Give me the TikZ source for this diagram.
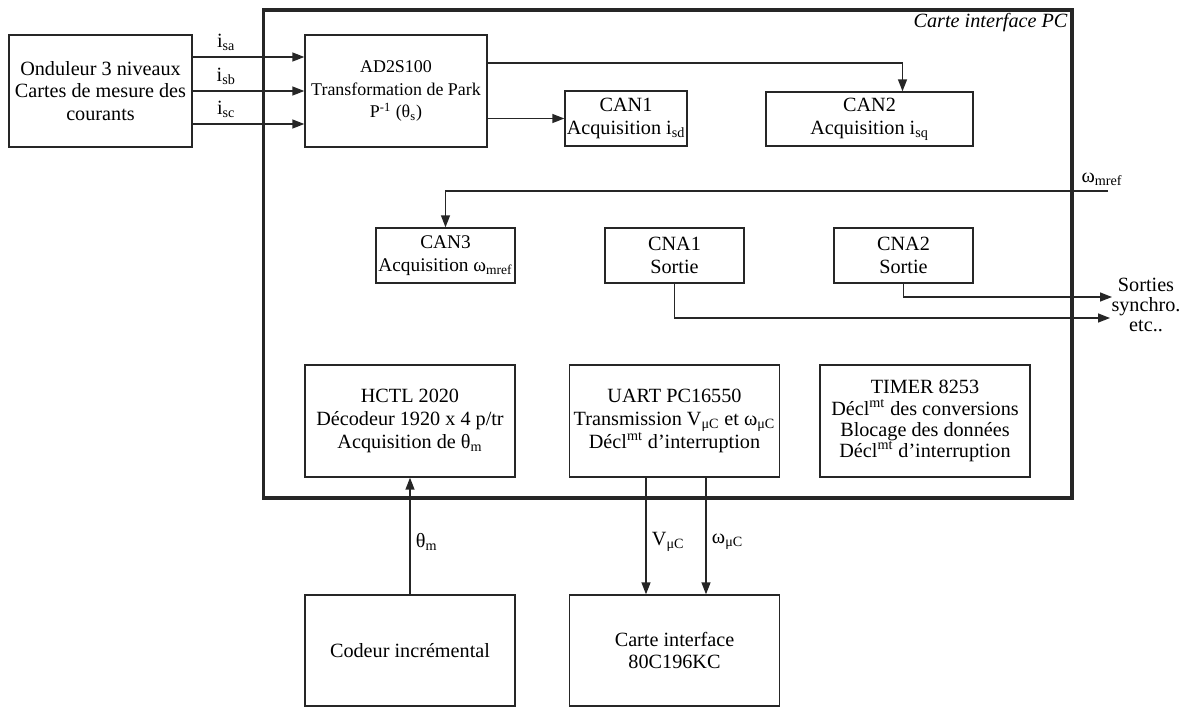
\documentclass[tikz,border=0pt]{standalone}
\usepackage{fontspec}
\setmainfont{Liberation Serif}
\usetikzlibrary{arrows.meta,positioning,calc}

\begin{document}
\begin{tikzpicture}[
    x=0.02cm, y=-0.02cm,
    every node/.style={font=\fontsize{11.5}{13}\selectfont},
    blockbox/.style={draw=black!85, line width=0.8pt, align=center, inner sep=0pt},
    bigbox/.style={blockbox, minimum width=4.2cm, minimum height=2.24cm},
    smallbox/.style={blockbox, minimum width=2.78cm, minimum height=1.1cm},
    sig/.style={draw=black!85, line width=0.8pt, -{Triangle[length=2.4mm, width=1.8mm]}},
    sublbl/.style={inner sep=3pt},
  ]
    \useasboundingbox (0,0) rectangle (1189,707);
    \node[draw=black!85, line width=1.8pt, minimum width=16.18cm, minimum height=9.76cm, inner sep=0pt] (pc) at (667.5,254) {};
    \node[anchor=north east, inner sep=1pt, font=\fontsize{11.5}{13}\selectfont\itshape] (pclbl) at ($(pc.north east)+(-4,3)$) {Carte interface PC};
    \node[blockbox, minimum width=3.66cm, minimum height=2.24cm] (ond) at (100.5,91) {Onduleur 3 niveaux\\Cartes de mesure des\\courants};
    \node[blockbox, minimum width=3.64cm, minimum height=2.24cm, font=\fontsize{10.2}{13}\selectfont] (park) at (396,91) {AD2S100\\Transformation de Park\\P\textsuperscript{-1} (θ\textsubscript{s})};
    \node[blockbox, minimum width=2.44cm, minimum height=1.1cm] (can1) at (626,118.5) {CAN1\\Acquisition i\textsubscript{sd}};
    \node[blockbox, minimum width=4.14cm, minimum height=1.08cm] (can2) at (869.5,119) {CAN2\\Acquisition i\textsubscript{sq}};
    \node[smallbox, font=\fontsize{11}{13}\selectfont] (can3) at (445.5,255.5) {CAN3\\Acquisition ω\textsubscript{mref}};
    \node[smallbox] (cna1) at (674.5,255.5) {CNA1\\Sortie};
    \node[smallbox] (cna2) at (903.5,255.5) {CNA2\\Sortie};
    \node[bigbox] (hctl) at (410,421) {HCTL 2020\\Décodeur 1920 x 4 p/tr\\Acquisition de θ\textsubscript{m}};
    \node[bigbox] (uart) at (674.5,421) {UART PC16550\\Transmission V\textsubscript{μC} et ω\textsubscript{μC}\\Décl\textsuperscript{mt} d’interruption};
    \node[bigbox, font=\fontsize{11.5}{12}\selectfont] (timer) at (925,421) {TIMER 8253\\Décl\textsuperscript{mt} des conversions\\Blocage des données\\Décl\textsuperscript{mt} d’interruption};
    \node[bigbox, minimum height=2.22cm] (codeur) at (410,650.5) {Codeur incrémental};
    \node[bigbox, minimum height=2.22cm] (carte) at (674.5,650.5) {Carte interface\\80C196KC};
    \node[align=center, font=\fontsize{11.5}{11.5}\selectfont] (sorties) at (1146,305) {Sorties\\synchro.\\etc..};
    \draw[sig] ($(ond.east)+(0,-34)$) -- node[above, pos=0.3, sublbl] {i\textsubscript{sa}} ($(park.west)+(0,-34)$);
    \draw[sig] (ond.east) -- node[above, pos=0.3, sublbl] {i\textsubscript{sb}} (park.west);
    \draw[sig] ($(ond.east)+(0,33)$) -- node[above, pos=0.3, sublbl] {i\textsubscript{sc}} ($(park.west)+(0,33)$);
    \draw[sig] ($(park.east)+(0,-28)$) -| ($(can2.north)+(33,0)$);
    \draw[sig] (park.east |- can1.west) -- (can1.west);
    \coordinate (wref) at (1108,191);
    \draw[sig] (wref) -| (can3.north);
    \node[above, sublbl] (wlbl) at ($(wref)+(-6,0)$) {ω\textsubscript{mref}};
    \coordinate (out1) at (1110,318);
    \coordinate (out2) at (1112,297);
    \draw[sig] (cna1.south) |- (out1);
    \draw[sig] (cna2.south) |- (out2);
    \draw[sig] (codeur.north) -- node[right, pos=0.45, sublbl] {θ\textsubscript{m}} (hctl.south);
    \draw[sig] ($(uart.south)+(-28.5,0)$) -- node[right, pos=0.55, sublbl] {V\textsubscript{μC}} ($(carte.north)+(-28.5,0)$);
    \draw[sig] ($(uart.south)+(31.5,0)$) -- node[right, pos=0.55, sublbl] {ω\textsubscript{μC}} ($(carte.north)+(31.5,0)$);
\end{tikzpicture}
\end{document}
